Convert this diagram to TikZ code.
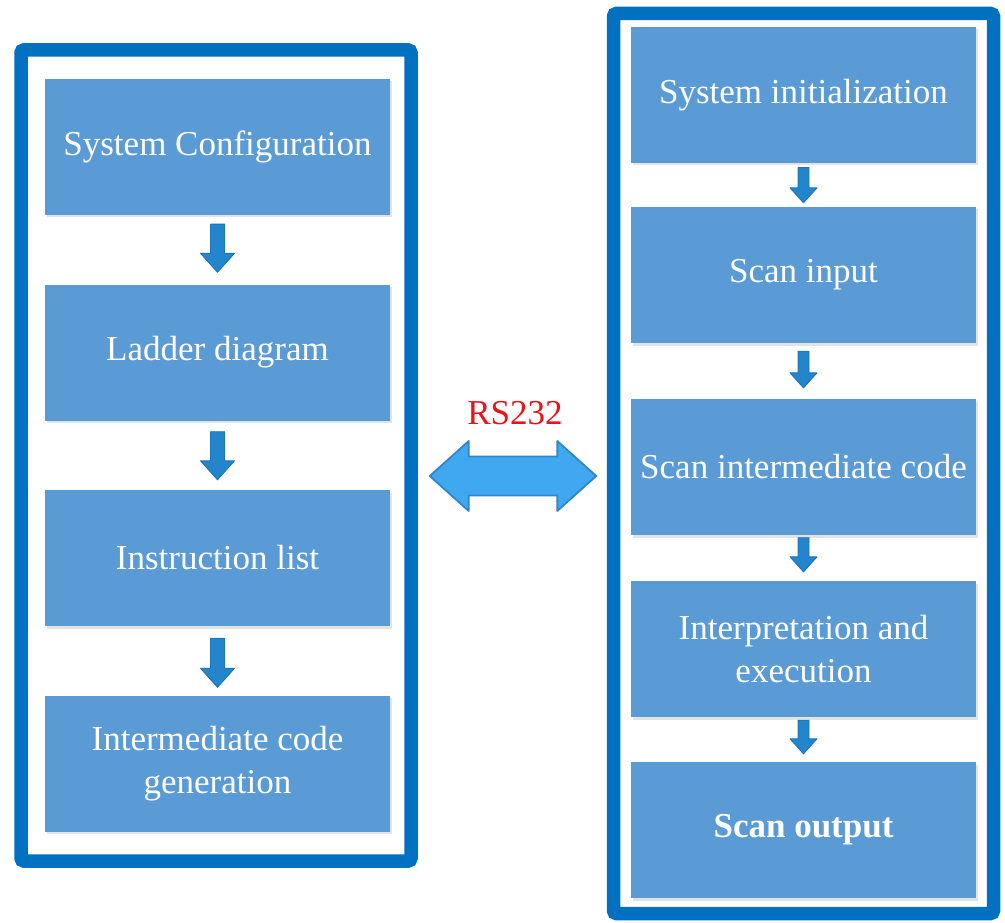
\documentclass[tikz,border=0pt]{standalone}
\usepackage{fontspec}
\setmainfont{Liberation Serif}
\usetikzlibrary{calc,shadows}

\definecolor{frameblue}{HTML}{0070C0}
\definecolor{boxblue}{HTML}{5B9BD5}
\definecolor{arrowlight}{HTML}{45B0F4}
\definecolor{arrowdark}{HTML}{2386CC}
\definecolor{arrowedge}{HTML}{1C74B8}
\definecolor{linkfill}{HTML}{3FA8F0}
\definecolor{linkedge}{HTML}{2F86C8}
\definecolor{linkred}{HTML}{E8141B}

\begin{document}
\begin{tikzpicture}[x=1pt,y=-1pt,
  frame/.style={draw=frameblue, line width=13.5pt, rounded corners=3pt,
    inner sep=0pt},
  stage/.style={fill=boxblue, minimum width=345pt, minimum height=136pt,
    inner sep=0pt, text=white, align=center,
    font=\fontsize{35}{43}\selectfont,
    drop shadow={shadow xshift=1.5pt, shadow yshift=-2.5pt, opacity=0.22}},
  % downward block arrow: shaft half-width, head half-width, head length
  flow/.style n args={3}{draw=arrowedge, line width=0.9pt, line join=round,
    left color=arrowdark, middle color=arrowlight, right color=arrowdark,
    to path={let \p1=(\tikztostart), \p2=(\tikztotarget) in
      (\x1-#1,\y1) -- (\x1+#1,\y1) -- (\x1+#1,\y2+#3) -- (\x1+#2,\y2+#3)
      -- (\x1,\y2) -- (\x1-#2,\y2+#3) -- (\x1-#1,\y2+#3) -- cycle}},
  leftflow/.style={flow={7pt}{17pt}{19pt}},
  rightflow/.style={flow={5.5pt}{13.5pt}{15pt}},
  % two-headed link arrow between the two frames
  duplex/.style={draw=linkedge, fill=linkfill, line width=1.8pt,
    line join=round,
    to path={let \p1=(\tikztostart), \p2=(\tikztotarget) in
      (\x1,\y1) -- (\x1+39pt,\y1+35pt) -- (\x1+39pt,\y1+19.5pt)
      -- (\x2-39pt,\y1+19.5pt) -- (\x2-39pt,\y1+35pt) -- (\x2,\y1)
      -- (\x2-39pt,\y1-35pt) -- (\x2-39pt,\y1-19.5pt)
      -- (\x1+39pt,\y1-19.5pt) -- (\x1+39pt,\y1-35pt) -- cycle}},
]
\useasboundingbox[fill=white] (0,0) rectangle (1005,923);

% outer frames
\node[frame, minimum width=390pt, minimum height=811pt] (L) at (216,455.5) {};
\node[frame, minimum width=380pt, minimum height=900pt] (R) at (803.5,463.5) {};

% configuration side
\node[stage] (l1) at (217.5,147)   {System Configuration};
\node[stage] (l2) at (217.5,352.5) {Ladder diagram};
\node[stage] (l3) at (217.5,558)   {Instruction list};
\node[stage] (l4) at (217.5,763.5) {Intermediate code\\generation};

% runtime side
\node[stage] (r1) at (803.5,95)  {System initialization};
\node[stage] (r2) at (803.5,275) {Scan input};
\node[stage] (r3) at (803.5,467) {Scan intermediate code};
\node[stage] (r4) at (803.5,649) {Interpretation and\\execution};
\node[stage] (r5) at (803.5,830) {\textbf{Scan output}};

% flow arrows
\draw[leftflow] ([yshift=-9pt]l1.south) to ([yshift=12pt]l2.north);
\draw[leftflow] ([yshift=-11pt]l2.south) to ([yshift=10pt]l3.north);
\draw[leftflow] ([yshift=-12pt]l3.south) to ([yshift=8pt]l4.north);

\draw[rightflow] ([yshift=-4.5pt]r1.south) to ([yshift=4pt]r2.north);
\draw[rightflow] ([yshift=-8pt]r2.south) to ([yshift=11pt]r3.north);
\draw[rightflow] ([yshift=-2.5pt]r3.south) to ([yshift=9pt]r4.north);
\draw[rightflow] ([yshift=-3pt]r4.south) to ([yshift=8pt]r5.north);

% serial link
\node[text=linkred, font=\fontsize{35}{43}\selectfont] (rs) at (515,413) {RS232};
\coordinate (mid) at (513,476);
\draw[duplex] ([xshift=12pt]L.east |- mid) to ([xshift=-10.5pt]R.west |- mid);
\end{tikzpicture}
\end{document}
